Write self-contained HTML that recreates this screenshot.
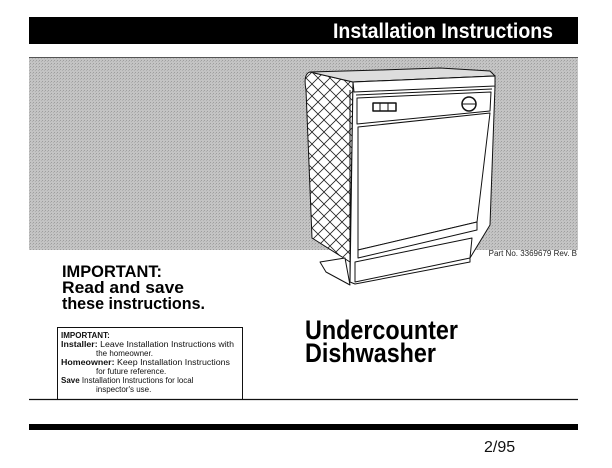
<!DOCTYPE html>
<html><head><meta charset="utf-8"><style>
html,body{margin:0;padding:0;background:#fff;width:612px;height:468px;overflow:hidden}
svg{display:block}
text{font-family:"Liberation Sans",sans-serif}
</style></head><body>
<svg width="612" height="468" viewBox="0 0 612 468" xmlns="http://www.w3.org/2000/svg">
<defs>
<pattern id="q" width="12" height="12" patternUnits="userSpaceOnUse">
<rect width="12" height="12" fill="#fff"/>
<path d="M0 0L12 12M12 0L0 12" stroke="#222" stroke-width="0.8"/>
</pattern>
<pattern id="g" width="3" height="3" patternUnits="userSpaceOnUse">
<rect width="3" height="3" fill="#c4c4c4"/>
<rect width="1" height="1" fill="#9e9e9e"/>
<rect x="2" y="1" width="1" height="1" fill="#b0b0b0"/>
</pattern>
</defs>
<rect x="29" y="17" width="549" height="27" fill="#000"/>
<text x="333" y="38" font-size="21" font-weight="bold" fill="#fff" textLength="220" lengthAdjust="spacingAndGlyphs">Installation Instructions</text>
<rect x="29" y="57" width="549" height="193" fill="url(#g)"/>
<line x1="29" y1="57.5" x2="578" y2="57.5" stroke="#555" stroke-width="1"/>
<g stroke="#111" stroke-width="1" stroke-linejoin="round">
<path d="M310 72 Q303 74 306 90 L312 238 L350 262 L353 82 Z" fill="url(#q)"/>
<path d="M310 72 L380 70 L440 68 L490 71 L495 76 L353 82 Z" fill="#ddd"/>
<path d="M320 262 L345 258 L350 285 L326 272 Z" fill="#fff"/>
<path d="M353 82 L495 76 L495 86 L490 225 L470 258 L470 262 L355 284 L350 282 Z" fill="#fff"/>
<path d="M353 82 L495 76 L495 86 L354 92 Z" fill="#fff"/>
<line x1="356" y1="95" x2="492" y2="89"/>
<path d="M357 98 L491 92 L490 111 L357 124 Z" fill="#fff"/>
<rect x="373" y="103" width="23" height="8" fill="#fff" stroke-width="1.5"/>
<line x1="380" y1="103" x2="380" y2="111"/><line x1="388" y1="103" x2="388" y2="111"/>
<circle cx="469" cy="104" r="7" fill="#fff" stroke-width="1.5"/>
<line x1="462" y1="104" x2="476" y2="104"/>
<path d="M358 127 L490 113 L477 222 L358 250 Z" fill="#fff"/>
<path d="M358 250 L477 222 L477 230 L358 258 Z" fill="#fff"/>
<path d="M355 262 L472 238 L470 258 L355 282 Z" fill="#fff"/>
<line x1="350" y1="282" x2="350" y2="90"/>
</g>
<text x="577" y="256" font-size="8" text-anchor="end" fill="#222">Part No. 3369679 Rev. B</text>
<text x="62" y="277" font-size="17" font-weight="bold" textLength="100" lengthAdjust="spacingAndGlyphs">IMPORTANT:</text>
<text x="62" y="293" font-size="17" font-weight="bold" textLength="122" lengthAdjust="spacingAndGlyphs">Read and save</text>
<text x="62" y="309" font-size="17" font-weight="bold" textLength="143" lengthAdjust="spacingAndGlyphs">these instructions.</text>
<text x="305" y="339" font-size="27" font-weight="bold" textLength="153" lengthAdjust="spacingAndGlyphs">Undercounter</text>
<text x="305" y="362" font-size="27" font-weight="bold" textLength="131" lengthAdjust="spacingAndGlyphs">Dishwasher</text>
<rect x="57.5" y="327.5" width="185" height="72" fill="none" stroke="#111" stroke-width="1"/>
<g font-size="8" fill="#111">
<text x="61" y="338" font-weight="bold">IMPORTANT:</text>
<text x="61" y="347" textLength="173" lengthAdjust="spacingAndGlyphs"><tspan font-weight="bold">Installer:</tspan> Leave Installation Instructions with</text>
<text x="96" y="356">the homeowner.</text>
<text x="61" y="365" textLength="169" lengthAdjust="spacingAndGlyphs"><tspan font-weight="bold">Homeowner:</tspan> Keep Installation Instructions</text>
<text x="96" y="374">for future reference.</text>
<text x="61" y="383"><tspan font-weight="bold">Save</tspan> Installation Instructions for local</text>
<text x="96" y="392">inspector's use.</text>
</g>
<line x1="29" y1="399.5" x2="578" y2="399.5" stroke="#111" stroke-width="1.2"/>
<rect x="29" y="424" width="549" height="6" fill="#000"/>
<text x="484" y="452" font-size="16" fill="#111" font-family="Liberation Serif,serif">2/95</text>
</svg>
</body></html>
